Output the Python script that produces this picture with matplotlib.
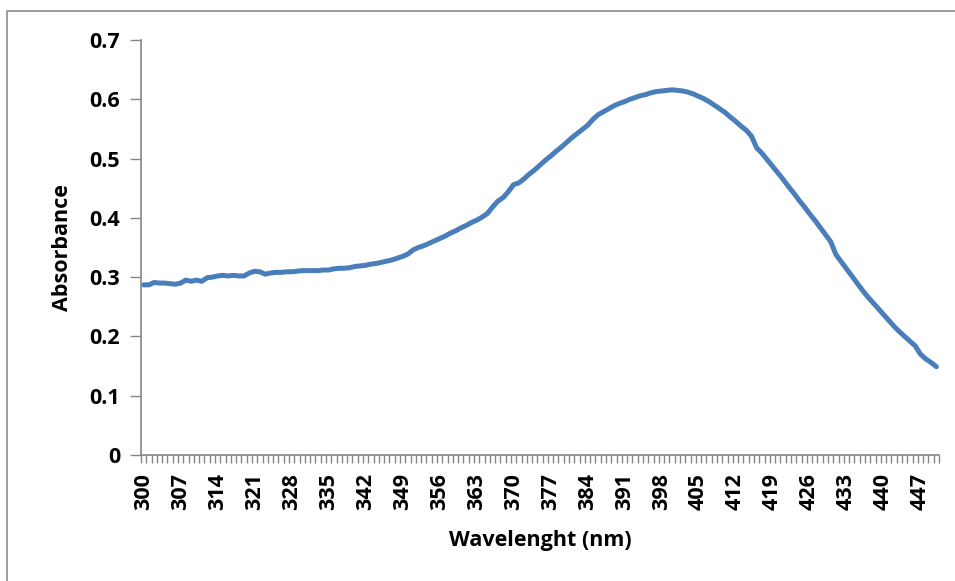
import numpy as np
import matplotlib.pyplot as plt
from matplotlib.patches import Rectangle

# UV-Vis spectrum, 1 nm steps
wavelength = np.arange(300, 451)
absorbance = [
    0.287, 0.287, 0.291, 0.290, 0.290, 0.289, 0.288, 0.290, 0.295, 0.293,  # 300-309
    0.295, 0.293, 0.299, 0.300, 0.302, 0.303, 0.302, 0.303, 0.302, 0.302,  # 310-319
    0.307, 0.310, 0.309, 0.305, 0.307, 0.308, 0.308, 0.309, 0.309, 0.310,  # 320-329
    0.311, 0.311, 0.311, 0.311, 0.312, 0.312, 0.314, 0.315, 0.315, 0.316,  # 330-339
    0.318, 0.319, 0.320, 0.322, 0.323, 0.325, 0.327, 0.329, 0.332, 0.335,  # 340-349
    0.339, 0.346, 0.350, 0.353, 0.357, 0.361, 0.365, 0.369, 0.374, 0.378,  # 350-359
    0.383, 0.387, 0.392, 0.396, 0.401, 0.407, 0.418, 0.428, 0.434, 0.444,  # 360-369
    0.456, 0.459, 0.466, 0.474, 0.481, 0.489, 0.497, 0.504, 0.512, 0.519,  # 370-379
    0.527, 0.535, 0.542, 0.549, 0.556, 0.566, 0.574, 0.579, 0.584, 0.589,  # 380-389
    0.593, 0.596, 0.600, 0.603, 0.606, 0.608, 0.611, 0.613, 0.614, 0.615,  # 390-399
    0.616, 0.615, 0.614, 0.612, 0.609, 0.605, 0.601, 0.596, 0.590, 0.584,  # 400-409
    0.578, 0.570, 0.563, 0.555, 0.548, 0.538, 0.518, 0.509, 0.498, 0.487,  # 410-419
    0.476, 0.465, 0.453, 0.442, 0.430, 0.419, 0.407, 0.396, 0.384, 0.372,  # 420-429
    0.360, 0.338, 0.326, 0.314, 0.302, 0.290, 0.278, 0.267, 0.257, 0.247,  # 430-439
    0.237, 0.227, 0.217, 0.208, 0.200, 0.192, 0.184, 0.170, 0.162, 0.156,  # 440-449
    0.149,                                                                  # 450
]
tick_wl = np.arange(300, 451, 7)
y_ticks = [0, 0.1, 0.2, 0.3, 0.4, 0.5, 0.6, 0.7]
y_labels = ["0", "0.1", "0.2", "0.3", "0.4", "0.5", "0.6", "0.7"]

plt.rcParams['font.family'] = ['Open Sans', 'DejaVu Sans']
axis_grey = '#868686'

fig = plt.figure(figsize=(9.55, 5.81), dpi=100)
ax = fig.add_axes([141/955, 126/581, 798/955, 415/581])

ax.plot(wavelength, absorbance, color='#4A7EBB', linewidth=3.6,
        solid_capstyle='round', solid_joinstyle='round')

ax.set_xlim(299.5, 450.5)
ax.set_ylim(0, 0.7)

ax.set_xticks(tick_wl)
ax.set_xticklabels([str(w) for w in tick_wl], rotation=90,
                   fontsize=15.5, fontweight='bold')
ax.set_xticks(np.arange(299.5, 451, 1), minor=True)
ax.tick_params(axis='x', which='major', length=0, pad=13)
ax.tick_params(axis='x', which='minor', length=6, width=1, color=axis_grey)

ax.set_yticks(y_ticks)
ax.set_yticklabels(y_labels, fontsize=15.5, fontweight='bold')
ax.tick_params(axis='y', length=8, width=1, color=axis_grey, pad=7)

for side in ['top', 'right']:
    ax.spines[side].set_visible(False)
for side in ['left', 'bottom']:
    ax.spines[side].set_color(axis_grey)
    ax.spines[side].set_linewidth(1.2)

ax.set_xlabel("Wavelenght (nm)", fontsize=15.5, fontweight='bold', labelpad=14)
ax.set_ylabel("Absorbance", fontsize=15.5, fontweight='bold', labelpad=12)

# chart frame
fig.patches.append(Rectangle((7/955, -0.05), 1.1, 1 - 11/581 + 0.05,
                             transform=fig.transFigure, fill=False,
                             edgecolor='#8c8c8c', linewidth=1.2))

fig.savefig('out.png', dpi=100)
